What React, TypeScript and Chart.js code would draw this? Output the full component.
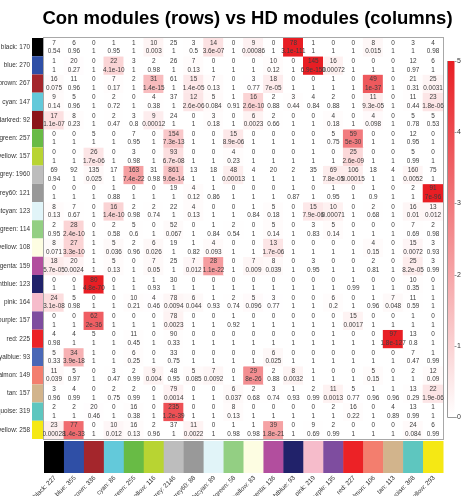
import React, { useEffect, useRef } from 'react';
import { Chart, registerables } from 'chart.js';

Chart.register(...registerables);

const titleText = 'Con modules (rows) vs HD modules (columns)';

const rowModules = ['black', 'blue', 'brown', 'cyan', 'darkred', 'green', 'greenyellow', 'grey', 'grey60', 'lightcyan', 'lightgreen', 'lightyellow', 'magenta', 'midnightblue', 'pink', 'purple', 'red', 'royalblue', 'salmon', 'tan', 'turquoise', 'yellow'];
const rowSizes = [170, 270, 267, 147, 92, 257, 157, 1960, 121, 123, 114, 108, 159, 123, 164, 157, 225, 93, 149, 157, 319, 258];

const colModules = ['black', 'blue', 'brown', 'cyan', 'green', 'greenyellow', 'grey', 'grey60', 'lightcyan', 'lightgreen', 'lightyellow', 'magenta', 'midnightblue', 'pink', 'purple', 'red', 'salmon', 'tan', 'turquoise', 'yellow'];
const colSizes = [227, 355, 336, 86, 255, 116, 2146, 88, 89, 58, 83, 136, 93, 219, 135, 227, 106, 113, 368, 293];

const moduleColors: Record<string, string> = {
  black: '#000000', blue: '#2f4fa6', brown: '#a4262c', cyan: '#63c9da', darkred: '#8c1519',
  green: '#68bb45', greenyellow: '#b8d432', grey: '#bdbdbd', grey60: '#999999', lightcyan: '#e1f4f8',
  lightgreen: '#93cf83', lightyellow: '#fdfde2', magenta: '#b24e9e', midnightblue: '#21226a', pink: '#f6bccb',
  purple: '#7e4d9f', red: '#ec2226', royalblue: '#4a67b6', salmon: '#f37e6e', tan: '#d2b48c',
  turquoise: '#5ec6bf', yellow: '#f5e814',
};

const overlapCounts: number[][] = [
  [7, 6, 0, 1, 1, 10, 25, 3, 14, 0, 9, 0, 78, 1, 0, 0, 8, 0, 3, 4],
  [1, 20, 0, 22, 3, 2, 26, 7, 0, 0, 0, 10, 0, 145, 16, 0, 0, 0, 12, 6],
  [16, 11, 0, 7, 2, 31, 61, 15, 7, 0, 3, 18, 0, 0, 1, 0, 49, 0, 21, 25],
  [9, 5, 0, 2, 0, 4, 37, 12, 5, 1, 16, 2, 3, 4, 2, 0, 11, 0, 11, 23],
  [17, 8, 0, 2, 3, 9, 24, 0, 3, 0, 6, 2, 0, 0, 4, 0, 4, 0, 5, 5],
  [0, 0, 5, 0, 7, 0, 154, 0, 0, 15, 0, 0, 0, 0, 5, 59, 0, 0, 12, 0],
  [0, 0, 26, 0, 3, 0, 93, 0, 0, 4, 0, 0, 0, 1, 0, 25, 0, 0, 5, 0],
  [69, 92, 135, 17, 163, 31, 861, 13, 18, 48, 4, 20, 2, 35, 69, 106, 18, 4, 160, 75],
  [0, 0, 0, 1, 0, 0, 19, 4, 1, 0, 0, 0, 1, 0, 1, 0, 1, 0, 2, 91],
  [8, 7, 0, 16, 2, 2, 22, 4, 0, 0, 1, 5, 0, 15, 10, 0, 2, 0, 16, 13],
  [2, 28, 0, 2, 5, 0, 52, 0, 1, 2, 0, 5, 0, 3, 5, 0, 0, 0, 7, 2],
  [8, 27, 1, 5, 2, 6, 19, 1, 4, 0, 0, 13, 0, 0, 0, 0, 4, 0, 15, 3],
  [18, 20, 1, 5, 0, 7, 25, 7, 28, 0, 7, 8, 0, 3, 0, 0, 2, 0, 25, 3],
  [0, 0, 80, 0, 1, 1, 30, 0, 0, 0, 0, 0, 0, 0, 0, 1, 0, 0, 10, 0],
  [24, 5, 0, 0, 10, 4, 78, 6, 1, 2, 5, 3, 0, 0, 6, 0, 1, 7, 11, 1],
  [0, 0, 62, 0, 0, 0, 78, 0, 0, 1, 0, 0, 0, 0, 0, 15, 0, 0, 1, 0],
  [4, 4, 5, 0, 11, 0, 90, 0, 0, 0, 0, 0, 0, 0, 1, 0, 0, 97, 13, 0],
  [5, 34, 1, 0, 6, 0, 33, 0, 0, 0, 0, 6, 0, 0, 0, 0, 0, 0, 7, 1],
  [11, 5, 0, 3, 2, 9, 48, 5, 7, 0, 29, 2, 8, 1, 0, 0, 5, 0, 2, 12],
  [3, 4, 0, 2, 2, 0, 79, 0, 0, 6, 2, 3, 1, 2, 11, 5, 1, 1, 13, 22],
  [2, 2, 20, 0, 16, 0, 235, 0, 0, 8, 0, 0, 0, 0, 2, 16, 0, 4, 13, 1],
  [23, 77, 0, 10, 16, 2, 37, 11, 0, 1, 1, 39, 0, 9, 2, 0, 0, 0, 24, 6],
];

const pValues: string[][] = [
  ['0.54', '0.96', '1', '0.95', '1', '0.003', '1', '0.5', '3.6e-07', '1', '0.00086', '1', '3.1e-111', '1', '1', '1', '0.015', '1', '1', '0.98'],
  ['1', '0.27', '1', '4.1e-10', '1', '0.98', '1', '0.13', '1', '1', '1', '0.12', '1', '6.9e-150', '0.00072', '1', '1', '1', '0.97', '1'],
  ['0.075', '0.96', '1', '0.17', '1', '1.4e-15', '1', '1.4e-05', '0.13', '1', '0.77', '7e-05', '1', '1', '1', '1', '1e-37', '1', '0.31', '0.0031'],
  ['0.14', '0.96', '1', '0.72', '1', '0.38', '1', '2.6e-06', '0.084', '0.91', '2.6e-10', '0.88', '0.44', '0.84', '0.88', '1', '9.3e-05', '1', '0.44', '1.8e-06'],
  ['1.1e-07', '0.23', '1', '0.47', '0.8', '0.00012', '1', '1', '0.18', '1', '0.0023', '0.66', '1', '1', '0.18', '1', '0.098', '1', '0.78', '0.53'],
  ['1', '1', '1', '1', '0.95', '1', '7.3e-13', '1', '1', '8.9e-06', '1', '1', '1', '1', '0.75', '5e-30', '1', '1', '0.95', '1'],
  ['1', '1', '1.7e-06', '1', '0.98', '1', '6.7e-08', '1', '1', '0.23', '1', '1', '1', '1', '1', '2.6e-09', '1', '1', '0.99', '1'],
  ['0.94', '1', '0.025', '1', '7.4e-22', '0.98', '9.6e-14', '1', '1', '0.00013', '1', '1', '1', '1', '7.8e-05', '0.00015', '1', '1', '0.0052', '1'],
  ['1', '1', '1', '0.88', '1', '1', '1', '0.12', '0.86', '1', '1', '1', '0.87', '1', '0.95', '1', '0.9', '1', '1', '7e-96'],
  ['0.13', '0.67', '1', '1.4e-10', '0.98', '0.74', '1', '0.13', '1', '1', '0.84', '0.18', '1', '7.9e-06', '0.00071', '1', '0.68', '1', '0.01', '0.012'],
  ['0.95', '2.4e-10', '1', '0.58', '0.6', '1', '0.067', '1', '0.84', '0.54', '1', '0.14', '1', '0.83', '0.14', '1', '1', '1', '0.69', '0.98'],
  ['0.071', '3.3e-10', '1', '0.036', '0.96', '0.026', '1', '0.82', '0.093', '1', '1', '1.7e-06', '1', '1', '1', '1', '0.15', '1', '0.0072', '0.93'],
  ['5.7e-05', '0.0024', '1', '0.13', '1', '0.05', '1', '0.012', '1.1e-22', '1', '0.009', '0.039', '1', '0.95', '1', '1', '0.81', '1', '8.2e-05', '0.99'],
  ['1', '1', '4.8e-70', '1', '1', '0.93', '1', '1', '1', '1', '1', '1', '1', '1', '1', '0.99', '1', '1', '0.35', '1'],
  ['3.1e-08', '0.98', '1', '1', '0.21', '0.46', '0.0094', '0.044', '0.93', '0.74', '0.096', '0.77', '1', '1', '0.2', '1', '0.96', '0.048', '0.59', '1'],
  ['1', '1', '2e-36', '1', '1', '1', '0.0023', '1', '1', '0.92', '1', '1', '1', '1', '1', '0.0017', '1', '1', '1', '1'],
  ['0.98', '1', '1', '1', '0.45', '1', '0.33', '1', '1', '1', '1', '1', '1', '1', '1', '1', '1', '1.8e-127', '0.8', '1'],
  ['0.33', '3.9e-18', '1', '1', '0.25', '1', '0.75', '1', '1', '1', '1', '0.025', '1', '1', '1', '1', '1', '1', '0.47', '0.99'],
  ['0.039', '0.97', '1', '0.47', '0.99', '0.004', '0.95', '0.085', '0.0092', '1', '8e-26', '0.88', '0.0032', '1', '1', '1', '0.15', '1', '1', '0.09'],
  ['0.96', '0.99', '1', '0.75', '0.99', '1', '0.0014', '1', '1', '0.037', '0.68', '0.74', '0.93', '0.99', '0.0013', '0.77', '0.96', '0.96', '0.29', '1.9e-06'],
  ['1', '1', '0.46', '1', '0.38', '1', '1.2e-39', '1', '1', '0.13', '1', '1', '1', '1', '1', '0.22', '1', '0.89', '0.99', '1'],
  ['0.00028', '1.4e-33', '1', '0.012', '0.13', '0.96', '1', '0.0022', '1', '0.98', '0.98', '1.8e-21', '1', '0.69', '0.99', '1', '1', '1', '0.084', '0.99'],
];

const colorbarTicks = [0, 10, 20, 30, 40, 50];
const colorbarMax = 50;
const redEnd = [232, 30, 36];

const FONT = '"Liberation Sans", Arial, Helvetica, sans-serif';

function heatColor(p: string): string {
  const v = Math.min(colorbarMax, -Math.log10(parseFloat(p)));
  const t = Math.max(0, v) / colorbarMax;
  const c = redEnd.map((e) => Math.round(255 + (e - 255) * t));
  return `rgb(${c[0]},${c[1]},${c[2]})`;
}

const decorPlugin = {
  id: 'heatDecor',
  afterDatasetsDraw(chart: any) {
    const { ctx, chartArea: a, scales } = chart;
    const xs = scales.x;
    const ys = scales.y;
    const nCols = colModules.length;
    const cw = a.width / nCols;
    ctx.save();

    // heatmap border
    ctx.strokeStyle = '#a8a8a8';
    ctx.lineWidth = 1;
    ctx.strokeRect(Math.round(a.left) - 0.5, Math.round(a.top) - 0.5, a.width + 1, a.height + 1);

    // cell texts
    ctx.fillStyle = '#3c3c3c';
    ctx.font = `6.4px ${FONT}`;
    ctx.textAlign = 'center';
    ctx.textBaseline = 'middle';
    for (let r = 0; r < rowModules.length; r++) {
      const y0 = ys.getPixelForValue(r);
      const y1 = ys.getPixelForValue(r + 1);
      const cy = (y0 + y1) / 2;
      for (let c = 0; c < nCols; c++) {
        const cx = xs.getPixelForValue(c);
        ctx.fillText(String(overlapCounts[r][c]), cx, cy - 4.2);
        ctx.fillText(pValues[r][c], cx, cy + 4.4);
      }
    }

    // row colour bars + labels
    ctx.textAlign = 'right';
    ctx.font = `6.4px ${FONT}`;
    for (let r = 0; r < rowModules.length; r++) {
      const y0 = ys.getPixelForValue(r);
      const y1 = ys.getPixelForValue(r + 1);
      ctx.fillStyle = moduleColors[rowModules[r]];
      ctx.fillRect(a.left - 12, y0, 11, y1 - y0);
      ctx.fillStyle = '#333333';
      ctx.fillText(`${rowModules[r]}: ${rowSizes[r]}`, a.left - 14, (y0 + y1) / 2);
    }

    // column colour bars + labels
    for (let c = 0; c < nCols; c++) {
      const cx = xs.getPixelForValue(c);
      ctx.fillStyle = moduleColors[colModules[c]];
      ctx.fillRect(cx - cw / 2, a.bottom + 2, cw + 0.5, 32);
    }
    ctx.fillStyle = '#333333';
    for (let c = 0; c < nCols; c++) {
      const cx = xs.getPixelForValue(c);
      ctx.save();
      ctx.translate(cx + 1, a.bottom + 38);
      ctx.rotate(-Math.PI / 4);
      ctx.textAlign = 'right';
      ctx.textBaseline = 'middle';
      ctx.fillText(`${colModules[c]}: ${colSizes[c]}`, 0, 0);
      ctx.restore();
    }

    // colour legend bar
    const barX = a.right + 4;
    const barW = 7.5;
    const barTop = a.top + 23;
    const barBot = a.bottom - 22;
    const grad = ctx.createLinearGradient(0, barBot, 0, barTop);
    grad.addColorStop(0, '#ffffff');
    grad.addColorStop(1, `rgb(${redEnd[0]},${redEnd[1]},${redEnd[2]})`);
    ctx.fillStyle = grad;
    ctx.fillRect(barX, barTop, barW, barBot - barTop);
    ctx.strokeStyle = '#9a9a9a';
    ctx.beginPath();
    ctx.moveTo(barX + 0.5, barTop);
    ctx.lineTo(barX + 0.5, barBot + 0.5);
    ctx.lineTo(barX + barW + 2, barBot + 0.5);
    ctx.stroke();
    ctx.fillStyle = '#333333';
    ctx.textAlign = 'left';
    ctx.textBaseline = 'middle';
    ctx.font = `7px ${FONT}`;
    for (const t of colorbarTicks) {
      const ty = barBot - ((barBot - barTop) * t) / colorbarMax;
      ctx.beginPath();
      ctx.moveTo(barX + barW, Math.round(ty) + 0.5);
      ctx.lineTo(barX + barW + 2, Math.round(ty) + 0.5);
      ctx.stroke();
      ctx.fillText(String(t), barX + barW + 2.5, ty);
    }

    // title
    ctx.fillStyle = '#000000';
    ctx.font = `bold 18.5px ${FONT}`;
    ctx.textAlign = 'center';
    ctx.textBaseline = 'alphabetic';
    ctx.fillText(titleText, 247.5, 23.5);

    ctx.restore();
  },
};

export default function App() {
  const ref = useRef<HTMLCanvasElement | null>(null);
  useEffect(() => {
    if (!ref.current) return;
    const chart = new Chart(ref.current, {
      type: 'bar',
      data: {
        labels: colModules.map((m, i) => `${m}: ${colSizes[i]}`),
        datasets: rowModules.map((m, r) => ({
          label: `${m}: ${rowSizes[r]}`,
          data: colModules.map(() => 1),
          backgroundColor: pValues[r].map((p) => heatColor(p)),
          borderWidth: 0,
          barPercentage: 1,
          categoryPercentage: 1,
          stack: 'cells',
        })),
      },
      options: {
        animation: false,
        responsive: false,
        maintainAspectRatio: false,
        events: [],
        layout: { padding: { left: 44, top: 38, right: 18, bottom: 57 } },
        scales: {
          x: { display: false, stacked: true },
          y: { display: false, stacked: true, min: 0, max: rowModules.length, reverse: true },
        },
        plugins: {
          legend: { display: false },
          tooltip: { enabled: false },
          title: { display: false },
        },
      },
      plugins: [decorPlugin],
    });
    return () => chart.destroy();
  }, []);
  return (
    <div style={{ position: 'fixed', left: 0, top: 0, width: 461, height: 496, background: '#ffffff' }}>
      <canvas ref={ref} width={461} height={496} style={{ display: 'block', width: 461, height: 496 }} />
    </div>
  );
}
